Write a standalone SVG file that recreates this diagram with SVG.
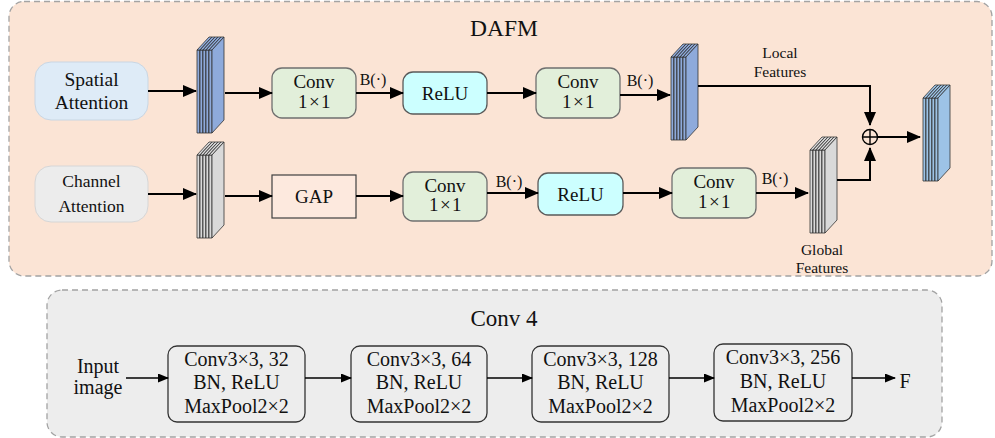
<svg xmlns="http://www.w3.org/2000/svg" xmlns:xlink="http://www.w3.org/1999/xlink" width="995" height="438" viewBox="0 0 995 438" font-family="'Liberation Serif', 'Times New Roman', serif">
<style>
text{font-family:'Liberation Serif','Times New Roman',serif;fill:#111;text-anchor:middle}
.panel{stroke:#a3a3a3;stroke-width:1.3;stroke-dasharray:6 4}
.conv{fill:#e2efda;stroke:#6f6f6f;stroke-width:1.3}
.relu{fill:#ccffff;stroke:#5a5a5a;stroke-width:1.3}
.c4{fill:#ededed;stroke:#333;stroke-width:1.3}
.ln{fill:none;stroke:#000;stroke-width:2}
.ln2{fill:none;stroke:#000;stroke-width:1.5}
.t19{font-size:19px}
.x{font-size:19px;letter-spacing:1.5px}
.t20{font-size:20px}
.t16{font-size:16px}
.t15{font-size:15.5px}
</style>
<defs>
<marker id="ah" markerUnits="userSpaceOnUse" markerWidth="14" markerHeight="12" refX="13" refY="6" orient="auto"><path d="M0,0 L14,6 L0,12 z" fill="#000"/></marker>
<marker id="ah2" markerUnits="userSpaceOnUse" markerWidth="11" markerHeight="9" refX="10" refY="4.5" orient="auto"><path d="M0,0 L11,4.5 L0,9 z" fill="#000"/></marker>
<g id="stk" stroke="#333" stroke-width="0.8" stroke-linejoin="round">
<rect x="0" y="13" width="3" height="83"/><polygon points="0,13 3,13 15,0 12,0"/><polygon points="3,13 15,0 15,83 3,96"/>
<rect x="3" y="13" width="3" height="83"/><polygon points="3,13 6,13 18,0 15,0"/><polygon points="6,13 18,0 18,83 6,96"/>
<rect x="6" y="13" width="3" height="83"/><polygon points="6,13 9,13 21,0 18,0"/><polygon points="9,13 21,0 21,83 9,96"/>
<rect x="9" y="13" width="3" height="83"/><polygon points="9,13 12,13 24,0 21,0"/><polygon points="12,13 24,0 24,83 12,96"/>
<rect x="12" y="13" width="3" height="83"/><polygon points="12,13 15,13 27,0 24,0"/><polygon points="15,13 27,0 27,83 15,96"/>
</g>
</defs>

<g id="dafm-panel">
<rect x="9" y="1.5" width="983" height="274.5" rx="15" fill="#fbe4d5" class="panel"/>
<text x="504" y="36" style="font-size:23.5px">DAFM</text>
</g>
<g id="conv4-panel">
<rect x="47" y="290" width="895" height="147" rx="15" fill="#ededed" class="panel"/>
<text x="504" y="326" style="font-size:23px">Conv 4</text>
</g>

<g id="spatial-attention">
<rect x="35" y="62" width="113" height="58" rx="16" fill="#deebf7" stroke="#c9d6e3" stroke-width="1"/>
<text x="91.5" y="86" style="font-size:19.5px">Spatial</text>
<text x="91.5" y="109" style="font-size:19.5px">Attention</text>
</g>
<g id="channel-attention">
<rect x="35" y="166" width="113" height="56" rx="16" fill="#ececec" stroke="#d6d6d6" stroke-width="1"/>
<text x="91.5" y="187" style="font-size:17.5px">Channel</text>
<text x="91.5" y="212" style="font-size:17.5px">Attention</text>
</g>

<g id="stack-spatial"><use xlink:href="#stk" x="197" y="37" fill="#8eaadb"/></g>
<g id="stack-channel"><use xlink:href="#stk" x="197" y="142" fill="#d9d9d9"/></g>
<g id="stack-local"><use xlink:href="#stk" x="671" y="44" fill="#8eaadb"/></g>
<g id="stack-global"><use xlink:href="#stk" x="810" y="137" fill="#d9d9d9"/></g>
<g id="stack-out"><use xlink:href="#stk" x="923" y="85" fill="#9dc3e6"/></g>

<g id="conv-a">
<rect x="272" y="68" width="84" height="50" rx="10" class="conv"/>
<text x="314" y="88" class="t19">Conv</text>
<text x="315" y="108" class="x">1×1</text>
</g>
<g id="relu-a">
<rect x="403" y="72" width="84" height="42" rx="10" class="relu"/>
<text x="445" y="100" class="t19">ReLU</text>
</g>
<g id="conv-b">
<rect x="536" y="68" width="84" height="50" rx="10" class="conv"/>
<text x="578" y="88" class="t19">Conv</text>
<text x="579" y="108" class="x">1×1</text>
</g>
<g id="gap">
<rect x="272" y="175" width="84" height="43" fill="#fde9de" stroke="#404040" stroke-width="1.2"/>
<text x="314" y="203" class="t19">GAP</text>
</g>
<g id="conv-c">
<rect x="403" y="172" width="84" height="49" rx="10" class="conv"/>
<text x="445" y="192" class="t19">Conv</text>
<text x="446" y="211" class="x">1×1</text>
</g>
<g id="relu-b">
<rect x="538" y="173" width="85" height="42" rx="10" class="relu"/>
<text x="580.5" y="201" class="t19">ReLU</text>
</g>
<g id="conv-d">
<rect x="672" y="168" width="84" height="50" rx="10" class="conv"/>
<text x="714" y="188" class="t19">Conv</text>
<text x="715" y="208" class="x">1×1</text>
</g>

<g id="add">
<circle cx="870" cy="137" r="7.5" fill="none" stroke="#000" stroke-width="1.4"/>
<path d="M862.5,137 H877.5 M870,129.5 V144.5" stroke="#000" stroke-width="1.4"/>
</g>

<g id="labels">
<text x="373" y="85" class="t16">B(·)</text>
<text x="640" y="86" class="t16">B(·)</text>
<text x="509" y="187" class="t16">B(·)</text>
<text x="775" y="184" class="t16">B(·)</text>
<text x="780" y="58" class="t15">Local</text>
<text x="780" y="77" class="t15">Features</text>
<text x="822" y="255" class="t15">Global</text>
<text x="822" y="273" class="t15">Features</text>
</g>

<g id="input-image">
<text x="98" y="373" class="t20">Input</text>
<text x="98" y="394" class="t20">image</text>
</g>
<g id="block1">
<rect x="168" y="346" width="137" height="76" rx="9" class="c4"/>
<text x="236.5" y="366" class="t20">Conv3×3, 32</text>
<text x="236.5" y="389" class="t20">BN, ReLU</text>
<text x="236.5" y="413" class="t20">MaxPool2×2</text>
</g>
<g id="block2">
<rect x="351" y="346" width="136" height="76" rx="9" class="c4"/>
<text x="419" y="366" class="t20">Conv3×3, 64</text>
<text x="419" y="389" class="t20">BN, ReLU</text>
<text x="419" y="413" class="t20">MaxPool2×2</text>
</g>
<g id="block3">
<rect x="532" y="346" width="137" height="76" rx="9" class="c4"/>
<text x="600.5" y="366" class="t20">Conv3×3, 128</text>
<text x="600.5" y="389" class="t20">BN, ReLU</text>
<text x="600.5" y="413" class="t20">MaxPool2×2</text>
</g>
<g id="block4">
<rect x="714" y="344" width="138" height="77" rx="9" class="c4"/>
<text x="783" y="364" class="t20">Conv3×3, 256</text>
<text x="783" y="388" class="t20">BN, ReLU</text>
<text x="783" y="412" class="t20">MaxPool2×2</text>
</g>
<g id="output-f">
<text x="905" y="388" class="t20">F</text>
</g>

<g id="connectors">
<path class="ln" d="M148,91 H196" marker-end="url(#ah)"/>
<path class="ln" d="M225,93 H272" marker-end="url(#ah)"/>
<path class="ln" d="M356,93 H403" marker-end="url(#ah)"/>
<path class="ln" d="M487,93 H536" marker-end="url(#ah)"/>
<path class="ln" d="M620,95 H670" marker-end="url(#ah)"/>
<path class="ln" d="M148,194 H196" marker-end="url(#ah)"/>
<path class="ln" d="M225,196 H272" marker-end="url(#ah)"/>
<path class="ln" d="M356,196 H403" marker-end="url(#ah)"/>
<path class="ln" d="M487,193 H538" marker-end="url(#ah)"/>
<path class="ln" d="M623,193 H672" marker-end="url(#ah)"/>
<path class="ln" d="M756,193 H808" marker-end="url(#ah)"/>
<path class="ln" d="M698,86 H870 V125" marker-end="url(#ah)"/>
<path class="ln" d="M837,180 H870 V148" marker-end="url(#ah)"/>
<path class="ln" d="M877.5,137 H920" marker-end="url(#ah)"/>
<path class="ln2" d="M126,378 H168" marker-end="url(#ah2)"/>
<path class="ln2" d="M305,378 H351" marker-end="url(#ah2)"/>
<path class="ln2" d="M487,378 H532" marker-end="url(#ah2)"/>
<path class="ln2" d="M669,378 H714" marker-end="url(#ah2)"/>
<path class="ln2" d="M852,378 H895" marker-end="url(#ah2)"/>
</g>
</svg>
